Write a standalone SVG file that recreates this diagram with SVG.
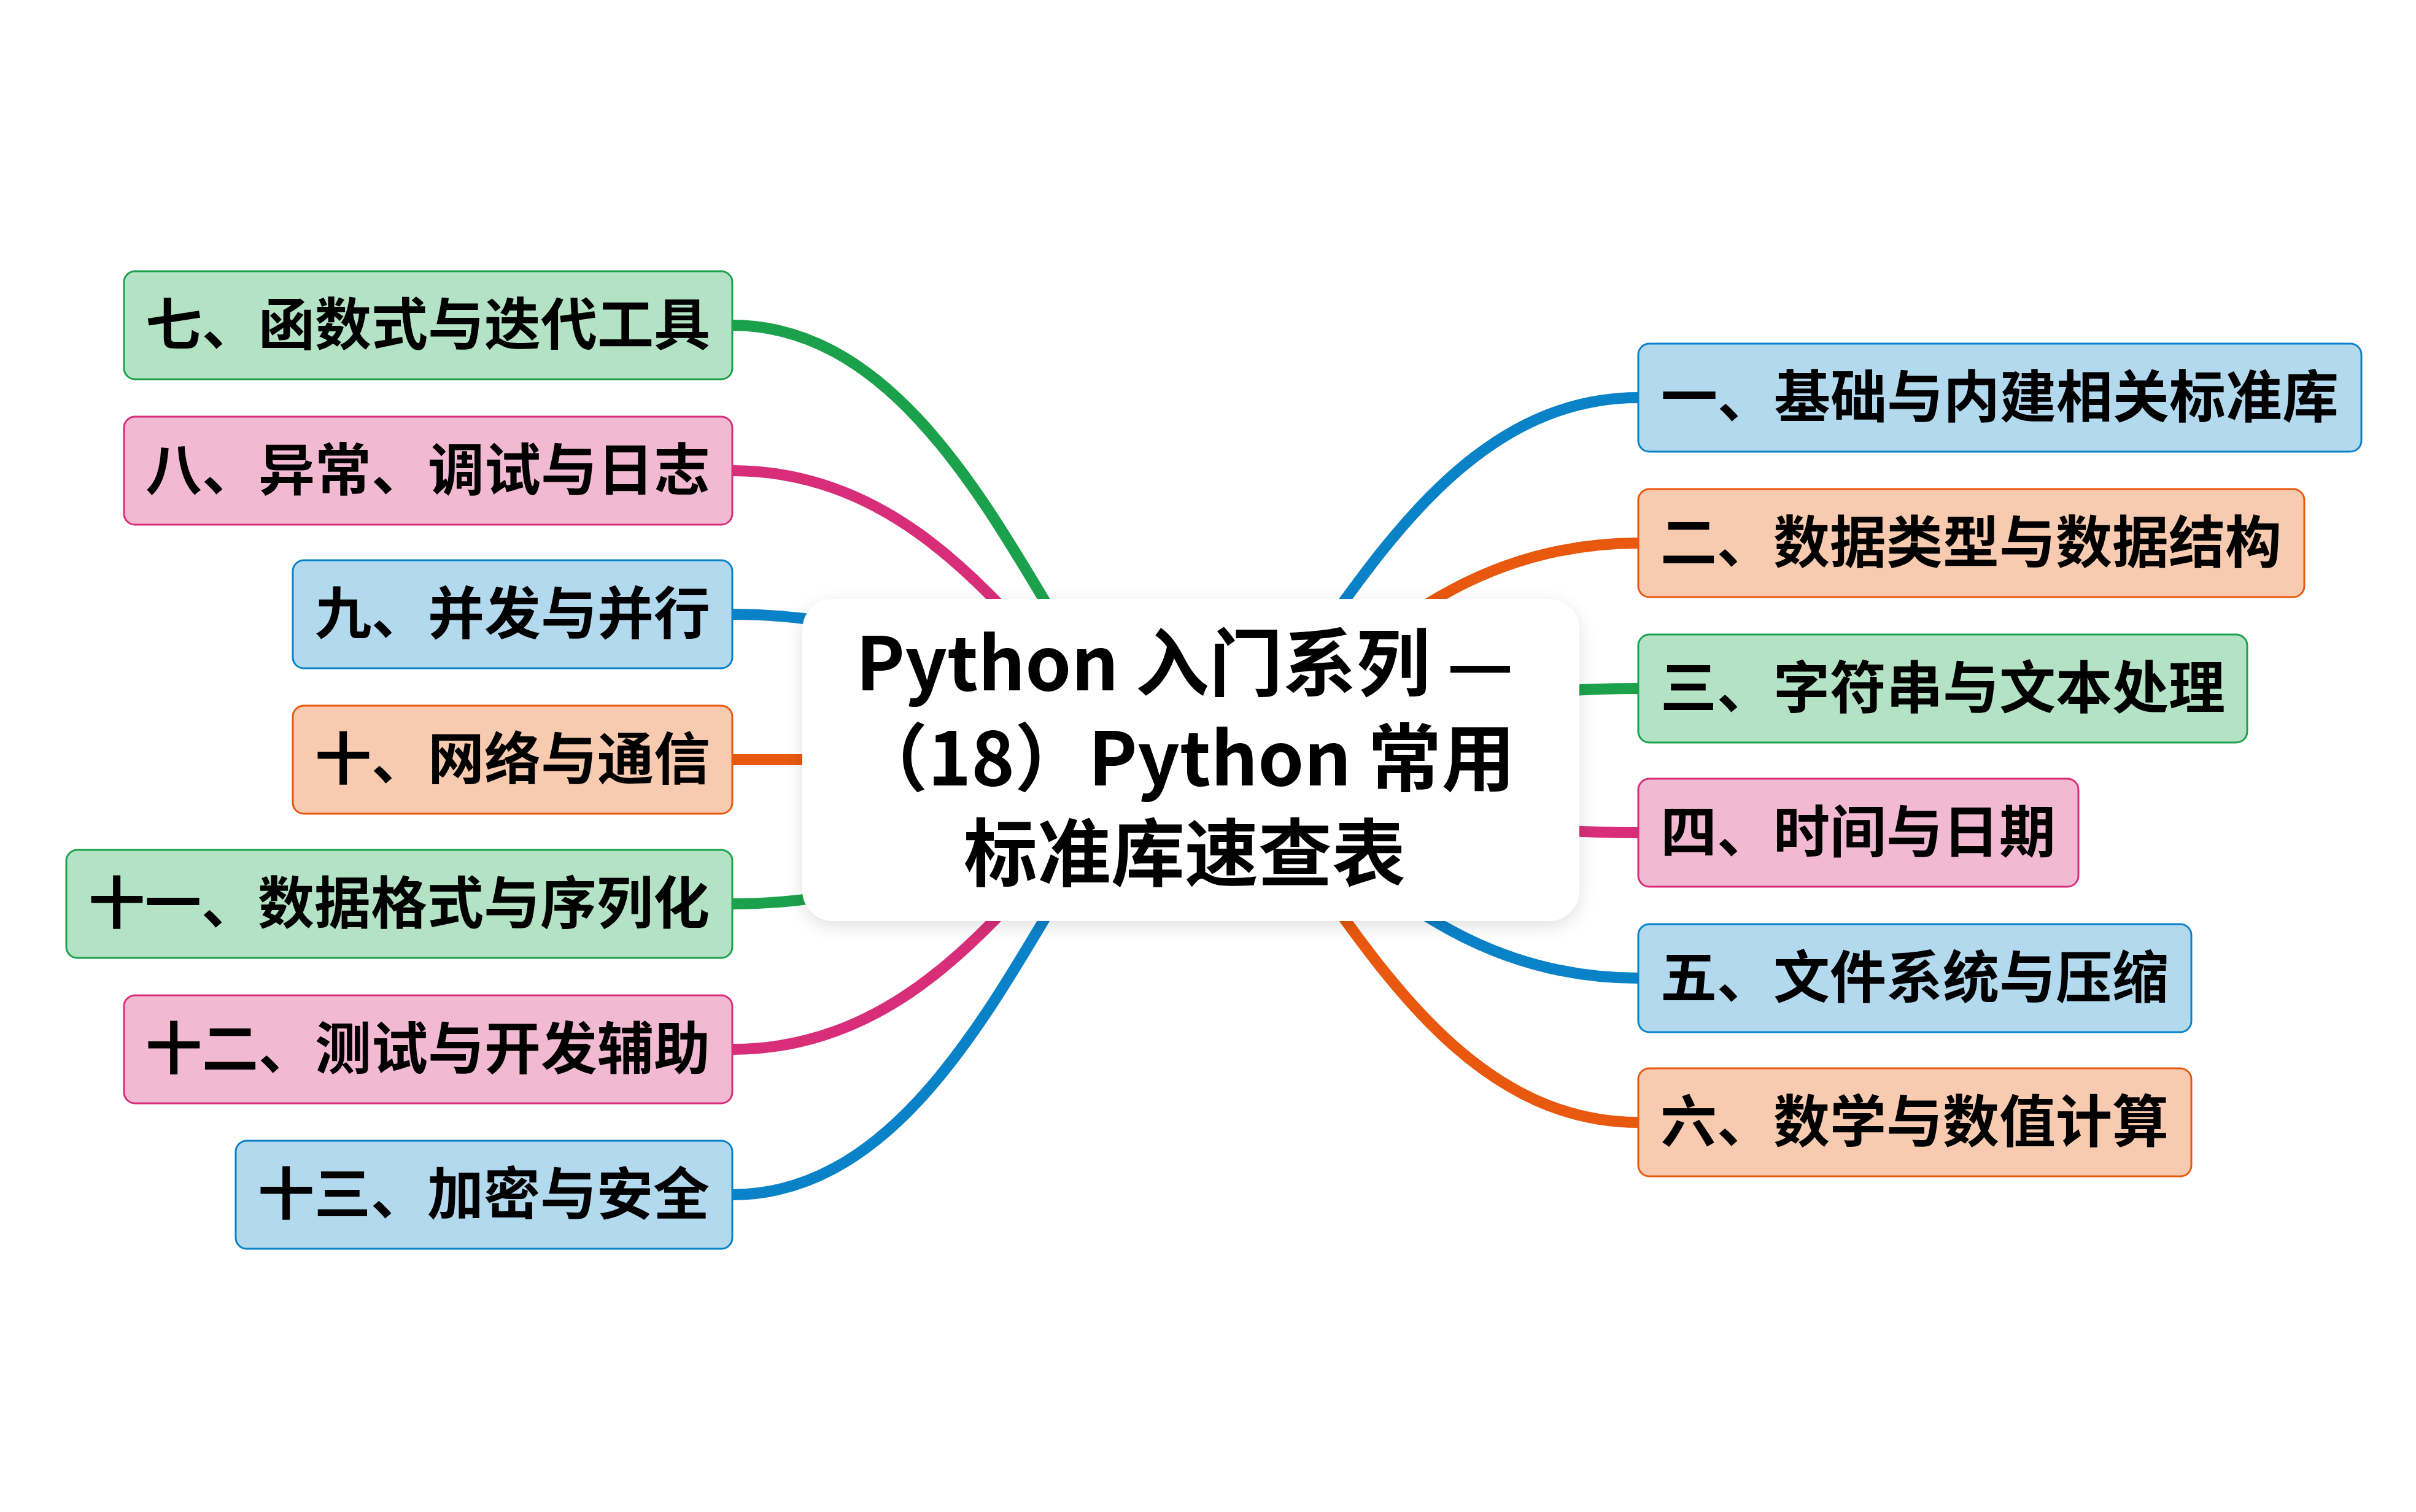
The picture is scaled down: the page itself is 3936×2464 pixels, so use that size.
<svg xmlns="http://www.w3.org/2000/svg" width="3936" height="2464" viewBox="0 0 3936 2464">
<defs>
<filter id="sh" x="-10%" y="-10%" width="120%" height="130%"><feDropShadow dx="0" dy="8" stdDeviation="14" flood-color="#000" flood-opacity="0.12"/></filter>
<style>
.c{fill:none;stroke-width:18;stroke-linecap:round}
.t{font-family:"Noto Sans CJK SC","Noto Sans",sans-serif;font-weight:700;font-size:92px;fill:#000;text-anchor:middle}
.tt{font-family:"Noto Sans CJK SC","Noto Sans",sans-serif;font-weight:700;font-size:120px;fill:#000;text-anchor:middle}
.b rect{fill:#b3d9ef;stroke:#0a82c8}
.o rect{fill:#f8cbb0;stroke:#e8580e}
.g rect{fill:#b3e2c4;stroke:#1ba14b}
.p rect{fill:#f2b9d3;stroke:#d82e7a}
rect{stroke-width:3}
</style>
</defs>
<rect width="3936" height="2464" fill="#fff"/>
<g id="connectors">
<path class="c" stroke="#0a82c8" d="M1930 1238 C2115 1238 2263 648 2669 648"/>
<path class="c" stroke="#e8580e" d="M1930 1238 C2115 1238 2263 885 2669 885"/>
<path class="c" stroke="#1ba14b" d="M1930 1238 C2115 1238 2263 1122 2669 1122"/>
<path class="c" stroke="#d82e7a" d="M1930 1238 C2115 1238 2263 1357 2669 1357"/>
<path class="c" stroke="#0a82c8" d="M1930 1238 C2115 1238 2263 1594 2669 1594"/>
<path class="c" stroke="#e8580e" d="M1930 1238 C2115 1238 2263 1829 2669 1829"/>
<path class="c" stroke="#1ba14b" d="M1930 1238 C1746 1238 1598 530 1193 530"/>
<path class="c" stroke="#d82e7a" d="M1930 1238 C1746 1238 1598 767 1193 767"/>
<path class="c" stroke="#0a82c8" d="M1930 1238 C1746 1238 1598 1001 1193 1001"/>
<path class="c" stroke="#e8580e" d="M1930 1238 C1746 1238 1598 1238 1193 1238"/>
<path class="c" stroke="#1ba14b" d="M1930 1238 C1746 1238 1598 1473 1193 1473"/>
<path class="c" stroke="#d82e7a" d="M1930 1238 C1746 1238 1598 1710 1193 1710"/>
<path class="c" stroke="#0a82c8" d="M1930 1238 C1746 1238 1598 1947 1193 1947"/>
</g>
<g id="n1" class="b"><rect x="2669" y="560" width="1178" height="176" rx="18"/><text class="t" x="3258" y="680">一、基础与内建相关标准库</text></g>
<g id="n2" class="o"><rect x="2669" y="797" width="1085" height="176" rx="18"/><text class="t" x="3211" y="917">二、数据类型与数据结构</text></g>
<g id="n3" class="g"><rect x="2669" y="1034" width="992" height="176" rx="18"/><text class="t" x="3165" y="1154">三、字符串与文本处理</text></g>
<g id="n4" class="p"><rect x="2669" y="1269" width="717" height="176" rx="18"/><text class="t" x="3027" y="1389">四、时间与日期</text></g>
<g id="n5" class="b"><rect x="2669" y="1506" width="901" height="176" rx="18"/><text class="t" x="3119" y="1626">五、文件系统与压缩</text></g>
<g id="n6" class="o"><rect x="2669" y="1741" width="901" height="176" rx="18"/><text class="t" x="3119" y="1861">六、数学与数值计算</text></g>
<g id="n7" class="g"><rect x="202" y="442" width="991" height="176" rx="18"/><text class="t" x="697" y="562">七、函数式与迭代工具</text></g>
<g id="n8" class="p"><rect x="202" y="679" width="991" height="176" rx="18"/><text class="t" x="697" y="799">八、异常、调试与日志</text></g>
<g id="n9" class="b"><rect x="477" y="913" width="716" height="176" rx="18"/><text class="t" x="835" y="1033">九、并发与并行</text></g>
<g id="n10" class="o"><rect x="477" y="1150" width="716" height="176" rx="18"/><text class="t" x="835" y="1270">十、网络与通信</text></g>
<g id="n11" class="g"><rect x="108" y="1385" width="1085" height="176" rx="18"/><text class="t" x="650" y="1505">十一、数据格式与序列化</text></g>
<g id="n12" class="p"><rect x="202" y="1622" width="991" height="176" rx="18"/><text class="t" x="697" y="1742">十二、测试与开发辅助</text></g>
<g id="n13" class="b"><rect x="384" y="1859" width="809" height="176" rx="18"/><text class="t" x="788" y="1979">十三、加密与安全</text></g>
<g id="center"><rect x="1307" y="976" width="1266" height="525" rx="50" fill="#fff" filter="url(#sh)"/>
<text class="tt" x="1930" y="1125">Python 入门系列 —</text>
<text class="tt" x="1930" y="1280">（18）Python 常用</text>
<text class="tt" x="1930" y="1435">标准库速查表</text></g>
</svg>
